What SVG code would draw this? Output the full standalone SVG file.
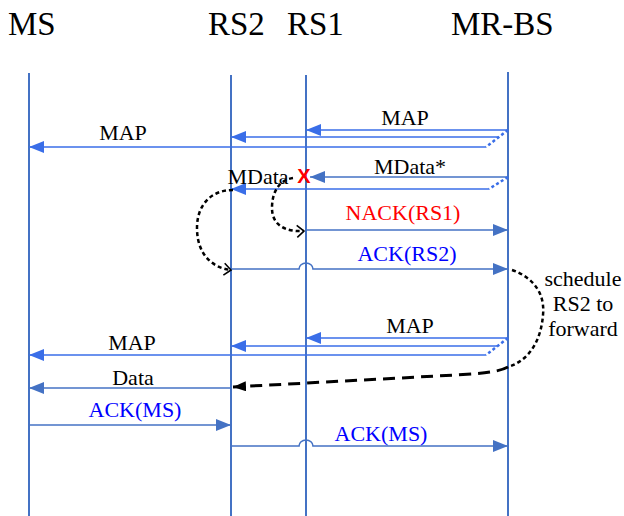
<svg xmlns="http://www.w3.org/2000/svg" width="624" height="516" viewBox="0 0 624 516">
<style>
text{font-family:"Liberation Serif","Times New Roman",serif;}
text.x{font-family:"Liberation Sans",Arial,sans-serif;font-weight:bold;font-size:20px;fill:#FF0000;text-anchor:middle;}
.hd{font-size:33px;fill:#000;}
.lb{font-size:22px;fill:#000;text-anchor:middle;}
.blue{fill:#0000FF;}
.red{fill:#FF0000;}
.life{stroke:#4472C4;stroke-width:2;fill:none;}
.ms{stroke:#4472C4;stroke-width:1.6;fill:none;marker-end:url(#aS);}
.mb{stroke:#3A6EE8;stroke-width:1.6;fill:none;marker-end:url(#aB);}
.dot{stroke:#3A6EE8;stroke-width:2.5;fill:none;stroke-dasharray:3 2.5;}
.bk{stroke:#000;stroke-width:2.5;fill:none;stroke-dasharray:4 3;}
</style>
<defs>
<marker id="aS" markerUnits="userSpaceOnUse" markerWidth="15" markerHeight="12" refX="15" refY="6" orient="auto"><path d="M0,0 L15,6 L0,12 z" fill="#4472C4"/></marker>
<marker id="aB" markerUnits="userSpaceOnUse" markerWidth="15" markerHeight="12" refX="15" refY="6" orient="auto"><path d="M0,0 L15,6 L0,12 z" fill="#3A6EE8"/></marker>
<marker id="aK" markerUnits="userSpaceOnUse" markerWidth="13" markerHeight="10" refX="13" refY="5" orient="auto"><path d="M0,0 L13,5 L0,10 z" fill="#000"/></marker>
<marker id="ch" markerUnits="userSpaceOnUse" markerWidth="10" markerHeight="14" refX="8" refY="7" orient="auto"><path d="M1,1 L8,7 L1,13" fill="none" stroke="#000" stroke-width="1.6"/></marker>
</defs>

<g id="MS"><text class="hd" x="8" y="35">MS</text><line class="life" x1="29" y1="73" x2="29" y2="516"/></g>
<g id="RS2"><text class="hd" x="208" y="35">RS2</text><line class="life" x1="231" y1="75" x2="231" y2="516"/></g>
<g id="RS1"><text class="hd" x="287" y="35">RS1</text><line class="life" x1="306" y1="75" x2="306" y2="516"/></g>
<g id="MR-BS"><text class="hd" x="451" y="35">MR-BS</text><line class="life" x1="508" y1="72" x2="508" y2="516"/></g>

<g id="connectors">
<line class="mb" x1="508" y1="130" x2="306" y2="130"/>
<line class="mb" x1="498" y1="137" x2="231" y2="137"/>
<line class="mb" x1="486" y1="147" x2="29" y2="147"/>
<line class="dot" x1="508" y1="130" x2="486" y2="147"/>
<line class="ms" x1="508" y1="177" x2="310" y2="177"/>
<line class="mb" x1="489" y1="189" x2="231" y2="189"/>
<line class="dot" x1="508" y1="177" x2="489" y2="189"/>
<line class="ms" x1="306" y1="230" x2="508" y2="230"/>
<path class="ms" d="M231,269 L299,269 A7,6 0 0 1 313,269 L508,269"/>
<line class="mb" x1="508" y1="338" x2="306" y2="338"/>
<line class="mb" x1="497" y1="346" x2="231" y2="346"/>
<line class="mb" x1="486" y1="355" x2="29" y2="355"/>
<line class="dot" x1="508" y1="338" x2="486" y2="355"/>
<line class="ms" x1="231" y1="388" x2="29" y2="388"/>
<line class="ms" x1="29" y1="425" x2="231" y2="425"/>
<path class="ms" d="M231,446 L299,446 A7,6 0 0 1 313,446 L508,446"/>
<path class="bk" d="M233,190 C210,190 197,206 197,228 C197,255 213,268 231,270" marker-end="url(#ch)"/>
<path class="bk" d="M293,178 C279,180 272,192 272,208 C272,225 285,232 304,231" marker-end="url(#ch)"/>
<path class="bk" d="M512,270 C535,278 545,295 543,315 C541,340 530,360 508,367"/>
<path d="M508,367 C495,374 470,374 400,378 L233,387" fill="none" stroke="#000" stroke-width="3" stroke-dasharray="12 7" marker-end="url(#aK)"/>
</g>

<g id="labels">
<text class="lb" x="405" y="125">MAP</text>
<text class="lb" x="123" y="140">MAP</text>
<text class="lb" x="410" y="174">MData*</text>
<text class="lb" x="258" y="184">MData</text>
<text class="x" x="304" y="183">X</text>
<text class="lb red" x="403" y="220">NACK(RS1)</text>
<text class="lb blue" x="407" y="261">ACK(RS2)</text>
<text class="lb" x="583" y="286">schedule</text>
<text class="lb" x="583" y="311">RS2 to</text>
<text class="lb" x="583" y="336">forward</text>
<text class="lb" x="410" y="333">MAP</text>
<text class="lb" x="132" y="350">MAP</text>
<text class="lb" x="133" y="385">Data</text>
<text class="lb blue" x="135" y="417">ACK(MS)</text>
<text class="lb blue" x="381" y="441">ACK(MS)</text>
</g>
</svg>
